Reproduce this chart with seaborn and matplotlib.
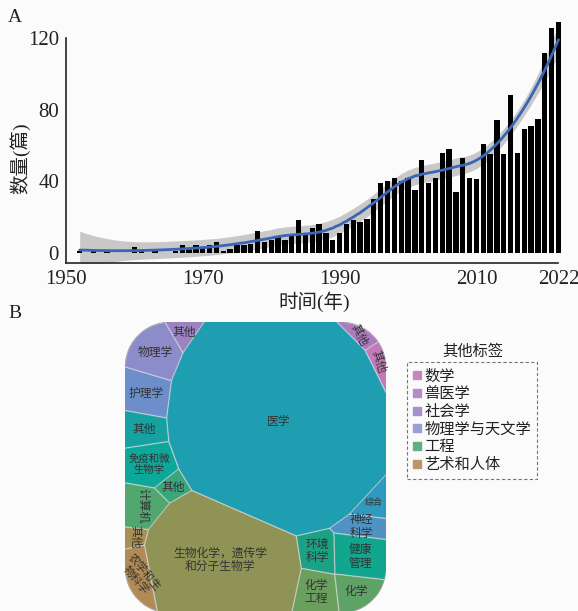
import numpy as np
import pandas as pd
import matplotlib
matplotlib.use("Agg")
import matplotlib.pyplot as plt
import seaborn as sns
from matplotlib.lines import Line2D

# ---------------- data: yearly publication counts ----------------
years = [1952, 1954, 1956, 1960, 1961, 1963] + list(range(1966, 2023))
counts = [1, 1, 1, 3, 1, 1,
          1, 4, 2, 4, 3, 4, 6, 1, 2, 4,          # 1966-1975
          4, 5, 12, 6, 7, 9, 7, 10, 18, 10,      # 1976-1985
          14, 16, 11, 7, 11, 16, 18, 17, 19, 30, # 1986-1995
          39, 40, 42, 40, 42, 35, 52, 39, 42, 56, # 1996-2005
          58, 34, 53, 42, 41, 61, 55, 74, 55, 88, # 2006-2015
          56, 69, 71, 75, 112, 126, 129]          # 2016-2022

x_ticks = [1950, 1970, 1990, 2010, 2022]
y_ticks = [0, 40, 80, 120]

# ---------------- data: subject areas ----------------
subjects = ["医学", "物理学", "其他", "护理学", "其他", "免疫和微\n生物学", "其他",
            "计算机", "其他", "农学和生\n物科学", "生物化学，遗传学\n和分子生物学",
            "环境\n科学", "健康\n管理", "化学\n工程", "化学", "神经\n科学", "综合",
            "其他", "其他"]
subject_share = [382, 22, 6, 18, 13, 19, 6.5, 15, 4, 13, 150,
                 14, 21, 17, 13.5, 10, 8, 5, 5]

other_groups = ["数学", "兽医学", "社会学", "物理学与天文学", "工程", "艺术和人体"]

# ---------------- styling ----------------
cell_colors = ["#1f9db1", "#8d8cca", "#9b82c1", "#6c8fcb", "#17a3a2", "#0ea89a", "#3aa67b",
               "#52a771", "#a98f55", "#b38a56", "#8f9456",
               "#1ba384", "#14a68e", "#6b9f5d", "#5fa266", "#4f93c4", "#3099bf",
               "#b07bbf", "#c27bb8"]
group_colors = ["#c586c0", "#b38ccb", "#a591cc", "#9a9fd5", "#62ae86", "#b8976a"]
# generator sites of the cells (figure pixel coordinates)
cell_sites = [(292, 405), (157, 349), (186, 332), (146, 386), (140, 419), (146, 458),
              (165, 482), (137, 510), (132, 553), (140, 590), (218, 575),
              (327, 558), (367, 557), (320, 597), (363, 592), (372, 517), (376, 483),
              (360, 337), (377, 363)]
cell_rot = [0, 0, 0, 0, 0, 0, 0, -90, -90, -50, 0, 0, 0, 0, 0, 0, 0, -62, -72]
cell_fs = [8.5, 8.5, 8.5, 8.5, 8.5, 7.5, 8.5, 8.5, 8.5, 8, 8.5,
           8.5, 8.5, 8.5, 8.5, 8.5, 6.5, 8.5, 8.5]

W, H = 578, 611
BG = "#fbfbfb"
sns.set_theme(style="white")
plt.rcParams["font.family"] = ["Liberation Serif", "Noto Sans CJK SC"]
plt.rcParams["axes.facecolor"] = BG
plt.rcParams["figure.facecolor"] = BG

fig = plt.figure(figsize=(W / 100, H / 100), dpi=100)


def px_axes(left, top, right, bottom):
    return [left / W, 1 - bottom / H, (right - left) / W, (bottom - top) / H]


# ---------------- panel A ----------------
def loess(x, y, grid, span):
    x = np.asarray(x, float)
    y = np.asarray(y, float)
    n = len(x)
    q = int(np.floor(n * span))

    def rows(pts):
        L = np.zeros((len(pts), n))
        for k, x0 in enumerate(pts):
            d = np.abs(x - x0)
            h = np.sort(d)[q - 1]
            u = np.clip(d / h, 0, 1)
            wt = (1 - u ** 3) ** 3
            X = np.vstack([np.ones(n), x - x0, (x - x0) ** 2]).T
            XtW = X.T * wt
            L[k] = np.linalg.solve(XtW @ X, XtW)[0]
        return L

    Lg, Ld = rows(grid), rows(x)
    fit = Lg @ y
    R = np.eye(n) - Ld
    one_delta = np.trace(R.T @ R)
    sigma = np.sqrt(np.sum((R @ y) ** 2) / one_delta)
    se = sigma * np.sqrt((Lg ** 2).sum(1))
    return fit, fit - 2.0 * se, fit + 2.0 * se


y_lo, y_hi = -5.8, 131
axA = fig.add_axes(px_axes(66, 252.7 - y_hi * 1.787, 562.6, 263))
df = pd.DataFrame({"year": years, "count": counts})
grid = np.linspace(min(years), max(years), 300)
fit, lo, hi = loess(df["year"], df["count"], grid, span=0.5)
axA.fill_between(grid, lo, hi, color="#c8c8c8", lw=0, zorder=1)
sns.barplot(data=df, x="year", y="count", native_scale=True, color="black",
            saturation=1, width=0.78, errorbar=None, linewidth=0,
            edgecolor="black", ax=axA, zorder=2)
axA.plot(grid, fit, color="#3a66b5", lw=2, zorder=3)

axA.set_xlim(1950, 2022.6)
axA.set_ylim(y_lo, y_hi)
axA.set_xticks(x_ticks)
axA.set_xticklabels([str(t) for t in x_ticks])
axA.set_yticks(y_ticks)
for s in ["top", "right"]:
    axA.spines[s].set_visible(False)
for s in ["left", "bottom"]:
    axA.spines[s].set_color("#262626")
    axA.spines[s].set_linewidth(1.2)
axA.spines["left"].set_bounds(y_lo, 120)
axA.spines["bottom"].set_bounds(1950, 2022)
axA.tick_params(direction="in", length=4, width=1, colors="#262626",
                labelsize=15, pad=5, labelcolor="#222222")
axA.set_xlabel("时间(年)", fontsize=14, color="#222222", labelpad=2)
axA.set_ylabel("数量(篇)", fontsize=14, color="#222222")
axA.yaxis.set_label_coords(-0.072, 0.43)
axA.grid(False)

fig.text(8 / W, 1 - 18 / H, "A", fontsize=14, va="center", ha="left", color="#222222")
fig.text(8 / W, 1 - 313 / H, "B", fontsize=14, va="center", ha="left", color="#222222")

# ---------------- panel B: power-diagram treemap ----------------
L0, R0, T0, B0, RAD = 125.0, 386.0, 322.0, 613.0, 45.0


def region_mask(xx, yy):
    cx = np.clip(xx, L0 + RAD, R0 - RAD)
    cy = np.clip(yy, T0 + RAD, B0 - RAD)
    inside = (xx >= L0) & (xx <= R0) & (yy >= T0) & (yy <= B0)
    return inside & ((xx - cx) ** 2 + (yy - cy) ** 2 <= RAD ** 2)


def assign(xx, yy, sites, wts):
    best = np.full(xx.shape, np.inf)
    lab = np.zeros(xx.shape, int)
    for i, (sx, sy) in enumerate(sites):
        d = (xx - sx) ** 2 + (yy - sy) ** 2 - wts[i]
        m = d < best
        best[m] = d[m]
        lab[m] = i
    return lab


# fit the power weights so each cell area follows its share
step = 1.0
gx = np.arange(L0 + step / 2, R0, step)
gy = np.arange(T0 + step / 2, B0, step)
XX, YY = np.meshgrid(gx, gy)
mask = region_mask(XX, YY)
xs, ys = XX[mask], YY[mask]
share = np.asarray(subject_share, float)
target = share / share.sum() * mask.sum() * step ** 2
wts = np.zeros(len(share))
for it in range(350):
    lab = assign(xs, ys, cell_sites, wts)
    area = np.bincount(lab, minlength=len(share)) * step ** 2
    wts += 0.5 * (target - area)

# render at higher resolution
ss = 3
step = 1.0 / ss
gx = np.arange(L0 + step / 2, R0, step)
gy = np.arange(T0 + step / 2, B0, step)
XX, YY = np.meshgrid(gx, gy)
mask = region_mask(XX, YY)
lab = assign(XX, YY, cell_sites, wts)
lab[~mask] = -1

edge = np.zeros(lab.shape, bool)
edge[:, 1:] |= lab[:, 1:] != lab[:, :-1]
edge[:, :-1] |= lab[:, 1:] != lab[:, :-1]
edge[1:, :] |= lab[1:, :] != lab[:-1, :]
edge[:-1, :] |= lab[1:, :] != lab[:-1, :]
grow = edge.copy()
grow[:, 1:] |= edge[:, :-1]
grow[1:, :] |= edge[:-1, :]
edge = grow & mask

rgba = np.zeros(lab.shape + (4,))
cols = np.array([matplotlib.colors.to_rgba(c) for c in cell_colors])
rgba[mask] = cols[lab[mask]]
rgba[edge] = matplotlib.colors.to_rgba("#d6d6d6")

axB = fig.add_axes([0, 0, 1, 1])
axB.set_xlim(0, W)
axB.set_ylim(H, 0)
axB.axis("off")
axB.patch.set_alpha(0)
axB.imshow(rgba, extent=(L0, R0, B0, T0), origin="upper",
           interpolation="antialiased", interpolation_stage="rgba", zorder=1)

# labels sit at the centroid of each cell's visible part
cjk = ["Noto Sans CJK SC", "DejaVu Sans"]
vis = mask & (YY <= H)
for i, name in enumerate(subjects):
    sel = vis & (lab == i)
    cx, cy = XX[sel].mean(), YY[sel].mean()
    axB.text(cx, cy, name, ha="center", va="center", fontsize=cell_fs[i],
             rotation=cell_rot[i], rotation_mode="anchor", color="#333333",
             family=cjk, linespacing=1.05, zorder=3)

# legend of the grouped "其他" cells
handles = [Line2D([], [], marker="s", ls="", markersize=6, color=c) for c in group_colors]
leg = fig.legend(handles, other_groups, loc="upper left",
                 bbox_to_anchor=(407 / W, 1 - 362 / H), borderaxespad=0,
                 frameon=True, fancybox=False, handlelength=0.6, handletextpad=0.2,
                 labelspacing=0.05, borderpad=0.35, prop={"family": cjk, "size": 11})
leg.get_frame().set_linestyle((0, (3, 2)))
leg.get_frame().set_edgecolor("#555555")
leg.get_frame().set_linewidth(0.8)
leg.get_frame().set_facecolor(BG)
for t in leg.get_texts():
    t.set_color("#222222")
fig.text(473 / W, 1 - 351 / H, "其他标签", ha="center", va="center", fontsize=11,
         family=cjk, color="#222222")

fig.savefig("out.png", dpi=100, facecolor=BG)
